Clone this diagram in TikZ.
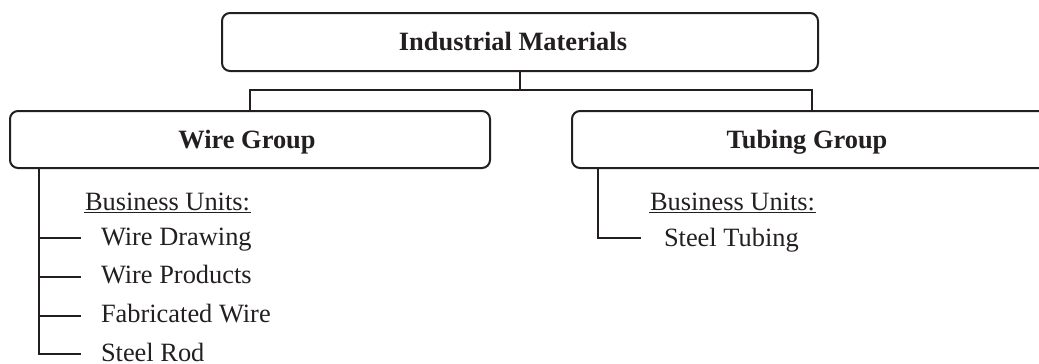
\documentclass[tikz,border=0pt]{standalone}
\usepackage{fontspec}
\setmainfont{Liberation Serif}
\definecolor{ink}{HTML}{231F20}
\begin{document}
\begin{tikzpicture}[x=1pt,y=-1pt,
  line width=2pt, draw=ink, text=ink,
  txt/.style={font=\fontsize{26.4}{30}\selectfont, inner sep=0pt, anchor=base west},
  grpbox/.style={draw=ink, rounded corners=8pt, inner sep=0pt},
  grplabel/.style={font=\fontsize{26.4}{30}\selectfont\bfseries, inner sep=0pt,
    text height=17.5pt, text depth=0pt}]
  \useasboundingbox (0,0) rectangle (1039,364);
  \clip (0,0) rectangle (1039,364);

  % group boxes
  \node[grpbox, minimum width=596pt, minimum height=58pt] (top) at (520,42) {};
  \node[grpbox, minimum width=480pt, minimum height=57pt] (wire) at (250,139.5) {};
  \node[grpbox, minimum width=480pt, minimum height=57pt] (tube) at (812,139.5) {};
  \node[grplabel] (topl) at ([xshift=-7]top.center) {Industrial Materials};
  \node[grplabel] (wirel) at ([xshift=-3]wire.center) {Wire Group};
  \node[grplabel] (tubel) at ([xshift=-5]tube.center) {Tubing Group};

  % org connectors
  \coordinate (bus) at (520,90);
  \draw (top.south) -- (bus);
  \draw (wire.north) |- (bus) -| (tube.north);

  % wire group business units
  \node[txt] (wbu) at (84,210.5) {Business Units:};
  \draw[line width=1.4pt] ([yshift=-2]wbu.base west) -- ([yshift=-2]wbu.base east);
  \node[txt] (w1) at (100,245) {Wire Drawing};
  \node[txt] (w2) at (100,283.5) {Wire Products};
  \node[txt] (w3) at (100,322.5) {Fabricated Wire};
  \node[txt] (w4) at (100,361.5) {Steel Rod};
  \coordinate (wtrunk) at ([xshift=30]wire.south west);
  \coordinate (wb1) at (81,238);
  \coordinate (wb2) at (81,277);
  \coordinate (wb3) at (81,316);
  \coordinate (wb4) at (81,354);
  \draw (wtrunk) |- (wb4);
  \foreach \b in {wb1,wb2,wb3} \draw (wtrunk |- \b) -- (\b);

  % tubing group business units
  \node[txt] (tbu) at (649,210.5) {Business Units:};
  \draw[line width=1.4pt] ([yshift=-2]tbu.base west) -- ([yshift=-2]tbu.base east);
  \node[txt] (t1) at (663,246.5) {Steel Tubing};
  \coordinate (ttrunk) at ([xshift=27]tube.south west);
  \coordinate (tb1) at (641,238);
  \draw (ttrunk) |- (tb1);
\end{tikzpicture}
\end{document}
